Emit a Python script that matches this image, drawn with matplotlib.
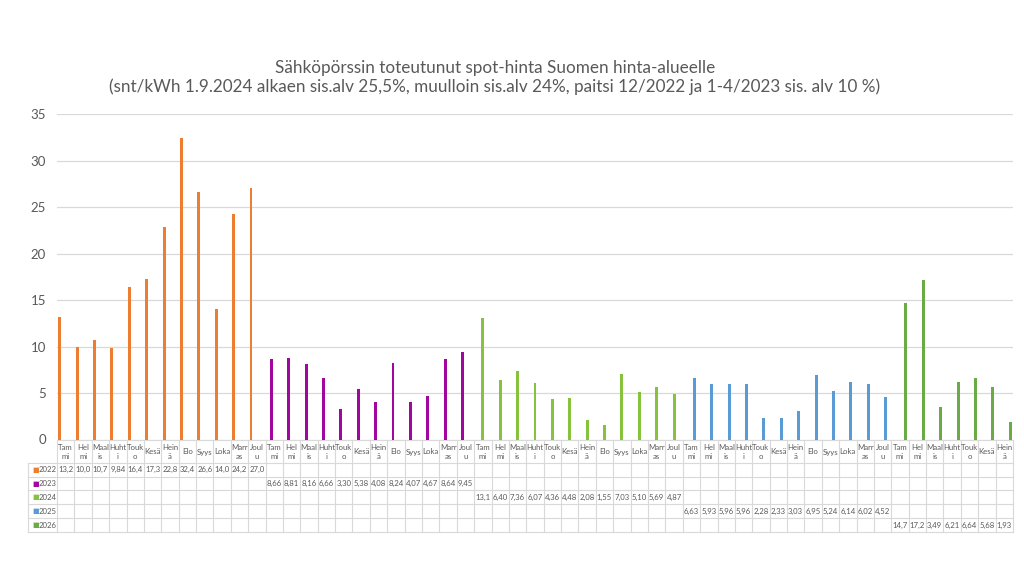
import numpy as np
import matplotlib.pyplot as plt
from matplotlib.transforms import blended_transform_factory

plt.rcParams['font.family'] = ['Lato', 'DejaVu Sans']

months = ['Tam\nmi', 'Hel\nmi', 'Maal\nis', 'Huht\ni', 'Touk\no', 'Kesä',
          'Hein\nä', 'Elo', 'Syys', 'Loka', 'Marr\nas', 'Joul\nu']
years = ['2022', '2023', '2024', '2025', '2026']
colors = ['#ED7D31', '#A1079F', '#86C23B', '#5B9BD5', '#6AAB45']

v2022 = [13.2, 10.0, 10.7, 9.84, 16.4, 17.3, 22.8, 32.4, 26.6, 14.0, 24.2, 27.0]
v2023 = [8.66, 8.81, 8.16, 6.66, 3.30, 5.38, 4.08, 8.24, 4.07, 4.67, 8.64, 9.45]
v2024 = [13.1, 6.40, 7.36, 6.07, 4.36, 4.48, 2.08, 1.55, 7.03, 5.10, 5.69, 4.87]
v2025 = [6.63, 5.93, 5.96, 5.96, 2.28, 2.33, 3.03, 6.95, 5.24, 6.14, 6.02, 4.52]
v2026 = [14.7, 17.2, 3.49, 6.21, 6.64, 5.68, 1.93]
series = [v2022, v2023, v2024, v2025, v2026]

title = ("Sähköpörssin toteutunut spot-hinta Suomen hinta-alueelle\n"
         "(snt/kWh 1.9.2024 alkaen sis.alv 25,5%, muulloin sis.alv 24%, "
         "paitsi 12/2022 ja 1-4/2023 sis. alv 10 %)")

# one category per month, series follow each other
labels = []
start = []
for s in series:
    start.append(len(labels))
    labels += months[:len(s)]
n = len(labels)

W, H = 1024, 576
fig = plt.figure(figsize=(W / 100, H / 100), dpi=100)
ax = fig.add_axes([57 / W, 1 - 439.5 / H, 956 / W, 325.5 / H])

grey = '#D9D9D9'
txt = '#595959'
bw = 0.17
for k, s in enumerate(series):
    x = np.arange(len(s)) + start[k] + (k - 2) * bw
    ax.bar(x, s, width=bw, color=colors[k], zorder=3)

ax.set_xlim(-0.5, n - 0.5)
ax.set_ylim(0, 35)
ax.set_yticks(range(0, 36, 5))
ax.tick_params(axis='y', length=0, pad=8, labelsize=9.5, labelcolor=txt)
ax.set_xticks([])
ax.grid(axis='y', color=grey, lw=0.9, zorder=0)
for sp in ['top', 'right', 'left']:
    ax.spines[sp].set_visible(False)
ax.spines['bottom'].set_color(grey)

fig.text(495 / W, 1 - 77.5 / H, title, ha='center', va='center',
         fontsize=12.3, color=txt, linespacing=1.25)

# data table under the axis
tr = blended_transform_factory(ax.transData, fig.transFigure)
def fy(py):
    return 1 - py / H

rows = [463, 476.5, 490, 504, 518, 532]
left = 28
xl = ax.transData.inverted().transform((left, 0))[0]
for py in rows:
    ax.plot([xl, n - 0.5], [fy(py)] * 2, transform=tr, color=grey, lw=0.8,
            clip_on=False)
for i in range(n + 1):
    ax.plot([i - 0.5] * 2, [fy(441), fy(532)], transform=tr, color=grey,
            lw=0.8, clip_on=False)
ax.plot([xl] * 2, [fy(463), fy(532)], transform=tr, color=grey, lw=0.8,
        clip_on=False)

for i, lab in enumerate(labels):
    ax.text(i, fy(452), lab, transform=tr, ha='center', va='center',
            fontsize=5.6, color=txt, linespacing=1.35)

def fmt(v):
    s = f"{v:.1f}" if v >= 10 else f"{v:.2f}"
    return s.replace('.', ',')

for k, s in enumerate(series):
    yc = fy((rows[k] + rows[k + 1]) / 2)
    for j, v in enumerate(s):
        ax.text(start[k] + j, yc, fmt(v), transform=tr, ha='center',
                va='center', fontsize=5.6, color=txt)
    fig.text(32 / W, yc, '\u25A0', ha='left', va='center', fontsize=5,
             color=colors[k])
    fig.text(39 / W, yc, years[k], ha='left', va='center', fontsize=5.6,
             color=txt)

fig.savefig('out.png', dpi=100)
